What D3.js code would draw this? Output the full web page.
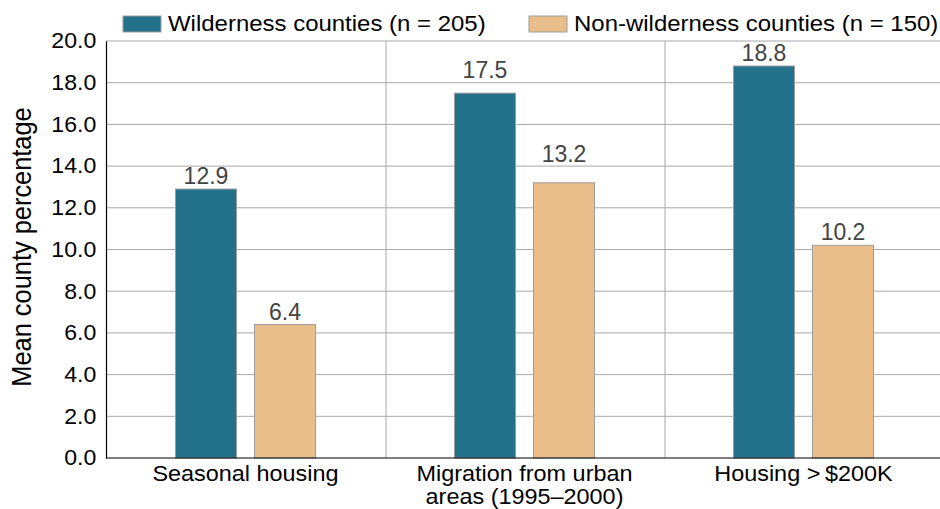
<!DOCTYPE html>
<html>
<head>
<meta charset="utf-8">
<script src="https://cdn.jsdelivr.net/npm/d3@7"></script>
<style>
  html, body { margin: 0; padding: 0; background: #fff; }
  svg { display: block; font-family: "Liberation Sans", Arial, Helvetica, sans-serif; }
</style>
</head>
<body>
<svg id="chart" width="940" height="509"></svg>
<script>
// ---- data ----
const categories = ["Seasonal housing", "Migration from urban\nareas (1995\u20132000)", "Housing >\u2009$200K"];
const seriesNames = ["Wilderness counties (n = 205)", "Non-wilderness counties (n = 150)"];
const wildernessValues = [12.9, 17.5, 18.8];
const nonWildernessValues = [6.4, 13.2, 10.2];
const yTicks = [0, 2, 4, 6, 8, 10, 12, 14, 16, 18, 20];
const yTitle = "Mean county percentage";

// ---- styles ----
const colors = ["#23718b", "#e9be8b"];
const SX = 1.075; // horizontal stretch of the reference's type

const svg = d3.select("#chart");
const W = 940, H = 509;
const plot = { left: 106, right: 943, top: 41, bottom: 458 };

const x0 = d3.scaleBand().domain(categories).range([plot.left, plot.right]).padding(0);
const groupW = x0.bandwidth() * 0.502;
const x1 = d3.scaleBand().domain(seriesNames)
  .range([(x0.bandwidth() - groupW) / 2, (x0.bandwidth() + groupW) / 2])
  .paddingInner(18 / 79).paddingOuter(0);
const y = d3.scaleLinear().domain([0, 20]).range([plot.bottom, plot.top]);

const table = categories.map((c, i) => ({
  category: c,
  values: [
    { key: seriesNames[0], value: wildernessValues[i], si: 0 },
    { key: seriesNames[1], value: nonWildernessValues[i], si: 1 }
  ]
}));

// horizontal gridlines
svg.append("g").selectAll("line").data(yTicks.filter(d => d > 0)).join("line")
  .attr("x1", plot.left).attr("x2", W)
  .attr("y1", d => y(d)).attr("y2", d => y(d))
  .attr("stroke", "#a8a8a8").attr("stroke-width", 1);

// vertical separators between categories
svg.append("g").selectAll("line").data(categories.slice(1)).join("line")
  .attr("x1", d => x0(d) + 1).attr("x2", d => x0(d) + 1)
  .attr("y1", plot.top).attr("y2", plot.bottom)
  .attr("stroke", "#a8a8a8").attr("stroke-width", 1);

// bars
const groups = svg.append("g").selectAll("g").data(table).join("g")
  .attr("transform", d => `translate(${x0(d.category)},0)`);
groups.selectAll("rect").data(d => d.values).join("rect")
  .attr("x", d => x1(d.key))
  .attr("y", d => y(d.value))
  .attr("width", x1.bandwidth())
  .attr("height", d => y(0) - y(d.value))
  .attr("fill", d => colors[d.si])
  .attr("stroke", "#9c9c9c").attr("stroke-width", 1);

// value labels (lifted above a gridline they would cross)
function labelBaseline(v) {
  let base = y(v) - 5;
  const top = base - 17;
  for (const t of yTicks) {
    const gy = y(t);
    if (gy > top && gy < base + 1) base = gy - 4.5;
  }
  return base;
}
groups.selectAll("text.val").data(d => d.values).join("text")
  .attr("class", "val")
  .attr("x", d => x1(d.key) + x1.bandwidth() / 2)
  .attr("y", d => labelBaseline(d.value))
  .attr("text-anchor", "middle")
  .attr("font-size", "23px")
  .attr("fill", "#444")
  .text(d => d.value.toFixed(1));

// y axis
const yAxis = svg.append("g").attr("transform", `translate(${plot.left},0)`)
  .call(d3.axisLeft(y).tickValues(yTicks).tickFormat(d3.format(".1f")).tickSize(0).tickPadding(9));
yAxis.select(".domain").attr("stroke", "#000").attr("stroke-width", 1.2);
yAxis.selectAll("text")
  .attr("font-size", "21.5px").attr("fill", "#000")
  .attr("font-family", "'Liberation Sans', Arial, sans-serif")
  .attr("transform", `scale(${SX},1)`);

// x axis line
svg.append("line")
  .attr("x1", plot.left).attr("x2", W)
  .attr("y1", y(0)).attr("y2", y(0))
  .attr("stroke", "#000").attr("stroke-width", 1.2);

// category labels (each line its own text element)
const catLines = [];
categories.forEach(c => c.split("\n").forEach((line, i) => catLines.push({ c, line, i })));
svg.append("g").selectAll("text").data(catLines).join("text")
  .attr("transform", d => `translate(${x0(d.c) + x0.bandwidth() / 2},${481 + d.i * 23.3}) scale(1.1,1)`)
  .attr("text-anchor", "middle")
  .attr("font-size", "21.3px")
  .attr("fill", "#000")
  .text(d => d.line);

// y title
svg.append("text")
  .attr("transform", `translate(31,247) scale(${SX},1) rotate(-90)`)
  .attr("text-anchor", "middle")
  .attr("font-size", "25.4px")
  .attr("fill", "#000")
  .text(yTitle);

// legend
const legendX = [123, 529];
const leg = svg.append("g").selectAll("g").data(seriesNames).join("g")
  .attr("transform", (d, i) => `translate(${legendX[i]},0)`);
leg.append("rect")
  .attr("x", 0).attr("y", 16).attr("width", 38).attr("height", 16)
  .attr("fill", (d, i) => colors[i])
  .attr("stroke", "#9c9c9c").attr("stroke-width", 1);
leg.append("text")
  .attr("transform", `translate(45,31) scale(${SX},1)`)
  .attr("font-size", "22.3px")
  .attr("fill", "#000")
  .text(d => d);
</script>
</body>
</html>
